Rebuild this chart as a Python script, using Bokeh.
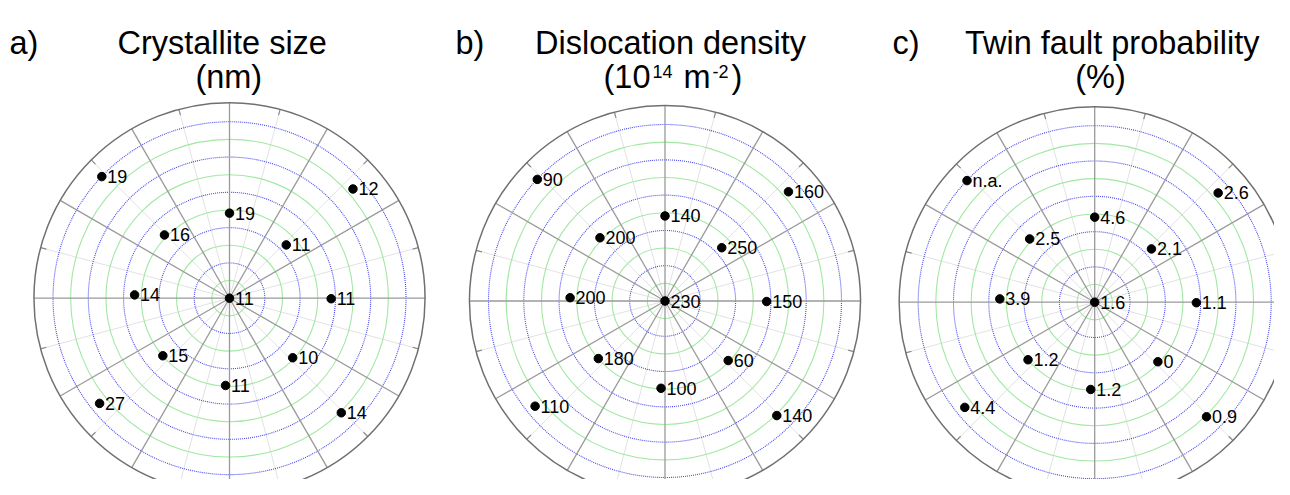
import numpy as np
from bokeh.plotting import figure
from bokeh.models import Range1d, ColumnDataSource
from bokeh.embed import file_html
from bokeh.resources import INLINE
from bokeh.core.properties import value

# ---------------- data ----------------
# measurement positions shared by the three maps (polar: degrees, radius in grid-ring units)
pos_angle_deg = [0, 90, 43.2, -0.3, -43.3, -92.6, 220.8, 178.0, 135.8, 41.5, -45.7, 219.0, 136.4]
pos_radius = [0, 4.82, 4.41, 5.76, 4.92, 4.95, 4.99, 5.38, 5.14, 9.34, 9.07, 9.47, 9.99]

crystallite_size_nm = [11, 19, 11, 11, 10, 11, 15, 14, 16, 12, 14, 27, 19]
dislocation_density_1e14 = [230, 140, 250, 150, 60, 100, 180, 200, 200, 160, 140, 110, 90]
twin_fault_prob_pct = [1.6, 4.6, 2.1, 1.1, 0, 1.2, 1.2, 3.9, 2.5, 2.6, 0.9, 4.4, None]

panel_letters = ["a)", "b)", "c)"]
title_line1 = ["Crystallite size", "Dislocation density", "Twin fault probability"]
title_line2 = ["(nm)", "(10|14|m|-2|)", "(%)"]

ring_count = 10          # grid rings
outer_radius = 11.08     # outer boundary in ring units

# ---------------- layout ----------------
FONT = value("Liberation Sans")
W, H = 1274, 479
UNIT = 17.65  # px per ring unit
centers = [(229.0, 297.7), (664.5, 300.5), (1094.2, 301.7)]
title1_x = [221.7, 670.0, 1111.7]
title2_x = [228.3, 675.0, 1100.0]
letter_x = [9.0, 455.0, 892.0]
TITLE_Y1, TITLE_Y2 = 42.0, 76.0
TITLE_FS = "32.5px"

p = figure(width=W, height=H, x_range=Range1d(0, W), y_range=Range1d(H, 0),
           output_backend="svg", toolbar_location=None, min_border=0,
           x_axis_location=None, y_axis_location=None)
p.grid.visible = False
p.outline_line_color = None
p.background_fill_color = "white"
p.border_fill_color = "white"


def fmt(v):
    return "n.a." if v is None else "{:g}".format(v)


series = [crystallite_size_nm, dislocation_density_1e14, twin_fault_prob_pct]
Rpx = outer_radius * UNIT

for k, (cx, cy) in enumerate(centers):
    # faint minor spokes (15 deg offsets)
    minor = np.deg2rad(np.arange(15, 360, 30))
    p.segment(x0=[cx] * len(minor), y0=[cy] * len(minor),
              x1=list(cx + Rpx * np.cos(minor)), y1=list(cy - Rpx * np.sin(minor)),
              line_color="#e2e2e2", line_width=1)
    # grid rings
    radii = [r * UNIT for r in range(1, ring_count + 1)]
    green = [r for i, r in enumerate(radii) if i % 2 == 0]
    blue = [r for i, r in enumerate(radii) if i % 2 == 1]
    p.circle(x=[cx] * len(green), y=[cy] * len(green), radius=green,
             fill_color=None, line_color="#a2e8a2", line_width=1.1)
    p.circle(x=[cx] * len(blue), y=[cy] * len(blue), radius=blue,
             fill_color=None, line_color="#4848f2", line_width=1.1, line_dash="1 1")
    # major spokes
    major = np.deg2rad(np.arange(0, 360, 30))
    p.segment(x0=[cx] * len(major), y0=[cy] * len(major),
              x1=list(cx + Rpx * np.cos(major)), y1=list(cy - Rpx * np.sin(major)),
              line_color="#9a9a9a", line_width=1.3)
    # ticks on the outer circle
    tin = Rpx - 6
    p.segment(x0=list(cx + tin * np.cos(minor)), y0=list(cy - tin * np.sin(minor)),
              x1=list(cx + Rpx * np.cos(minor)), y1=list(cy - Rpx * np.sin(minor)),
              line_color="#8a8a8a", line_width=1.2)
    # outer circle
    p.circle(x=[cx], y=[cy], radius=[Rpx], fill_color=None,
             line_color="#707070", line_width=1.5)

    # data points
    ang = np.deg2rad(np.array(pos_angle_deg))
    rr = np.array(pos_radius) * UNIT
    src = ColumnDataSource(dict(x=cx + rr * np.cos(ang), y=cy - rr * np.sin(ang),
                                label=[fmt(v) for v in series[k]]))
    p.scatter("x", "y", source=src, size=8.5, color="black")
    p.text("x", "y", text="label", source=src, x_offset=5.5, text_baseline="middle",
           text_font=FONT, text_font_size="18px", text_color="black")

    # titles
    p.text(x=[letter_x[k]], y=[TITLE_Y1], text=[panel_letters[k]], text_font=FONT,
           text_font_size=TITLE_FS, text_baseline="alphabetic", text_align="left", text_color="black")
    p.text(x=[title1_x[k]], y=[TITLE_Y1], text=[title_line1[k]], text_font=FONT,
           text_font_size=TITLE_FS, text_baseline="alphabetic", text_align="center", text_color="black")
    parts = title_line2[k].split("|")
    if len(parts) == 1:
        p.text(x=[title2_x[k]], y=[TITLE_Y2], text=parts, text_font=FONT,
               text_font_size=TITLE_FS, text_baseline="alphabetic", text_align="center", text_color="black")
    else:
        # "(10", "14" (superscript), "m", "-2" (superscript), ")"
        xs = [603.0, 652.0, 683.0, 712.0, 731.0]
        sizes = [TITLE_FS, "18px", TITLE_FS, "18px", TITLE_FS]
        ys = [TITLE_Y2, TITLE_Y2 - 5, TITLE_Y2, TITLE_Y2 - 5, TITLE_Y2]
        for t, xx, yy, fs in zip(parts, xs, ys, sizes):
            p.text(x=[xx], y=[yy], text=[t], text_font=FONT, text_font_size=fs,
                   text_baseline="alphabetic", text_align="left", text_color="black")

open("out.html", "w").write(file_html(p, INLINE))
